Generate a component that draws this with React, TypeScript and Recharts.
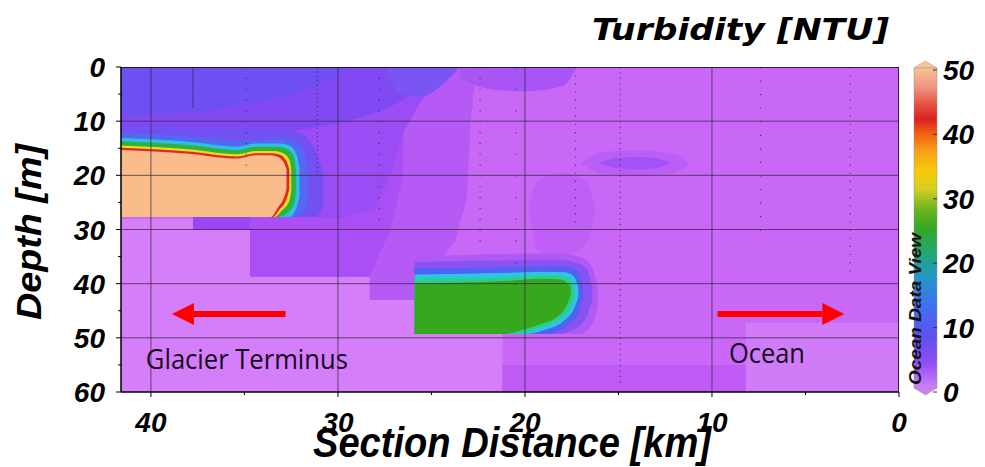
import React from "react";
import { ComposedChart, XAxis, YAxis, Area, Line, Scatter } from "recharts";

// ---------- axes ----------
const X_MAX = 41.6; // km (left edge of section)
const DEPTH_MAX = 60; // m
const xTicks = [0, 5, 10, 15, 20, 25, 30, 35, 40];
const yTicks = [0, 5, 10, 15, 20, 25, 30, 35, 40, 45, 50, 55, 60];
const gridX = [10, 20, 30, 40];
const gridY = [10, 20, 30, 40, 50];
const colorTicks = [0, 10, 20, 30, 40, 50];

// ---------- contour regions: [km, top depth, bottom depth] ----------
type Row = [number, number, number];

const fieldBase: Row[] = [[0, 0, 60], [41.6, 0, 60]];
const lowerLeftLight: Row[] = [[21.2, 49.3, 60], [25.9, 49.3, 60], [25.9, 28, 60], [41.6, 28, 60]];
const oceanLight: Row[] = [[0, 47.2, 60], [8.2, 47.2, 60]];
const bottomDark: Row[] = [[8.2, 55, 60], [21.2, 55, 60]];
const midPurple: Row[] = [
  [22.6, 0, 0.5], [22.9, 0, 10], [23.1, 0, 24], [23.7, 0, 32], [24.8, 0, 37],
  [25.9, 0, 38.5], [25.9, 0, 43], [28.3, 0, 43], [28.3, 0, 38.7], [34.7, 0, 38.7],
  [34.7, 0, 30], [37.75, 0, 30], [37.75, 0, 27.7], [41.6, 0, 27.7],
];
const stepPurple: Row[] = [
  [26.5, 0, 20], [27.2, 0, 30], [28.3, 0, 38.7], [34.7, 0, 38.7], [34.7, 0, 30],
  [37.75, 0, 30], [37.75, 0, 27.7], [41.6, 0, 27.7],
];
const darkStrip: Row[] = [[34.7, 27.7, 30], [37.75, 27.7, 30]];
const upperPurple: Row[] = [
  [24.5, 0, 1], [25.5, 0, 6], [26.5, 0, 12], [27.2, 0, 20], [28, 0, 26], [30, 0, 28],
  [31.5, 0, 27.7], [41.6, 0, 27.7],
];
const topBand: Row[] = [[17.3, 0, 0.5], [18, 0, 3.5], [20, 0, 4.5], [22, 0, 4], [23.5, 0, 2]];
const upperBlue: Row[] = [
  [25, 0, 2], [26.5, 0, 6], [28.5, 0, 9], [31, 0, 11], [33, 0, 12], [36, 0, 12.5], [41.6, 0, 12.5],
];
const surfaceBlue: Row[] = [[29.5, 0, 0.5], [31, 0, 3], [33, 0, 5.5], [36, 0, 7.5], [41.6, 0, 9]];
const surfaceSpot: Row[] = [[23.6, 0, 0.5], [24.5, 0, 3.5], [25.6, 0, 5.5], [26.6, 0, 5], [27.4, 0, 0.5]];
const patchOuter: Row[] = [[11.2, 17.8, 17.8], [12, 16, 19.5], [14, 15.4, 20], [16, 15.8, 19.5], [17, 17.8, 17.8]];
const patchInner: Row[] = [[12.2, 17.7, 17.7], [12.8, 17, 18.5], [14, 16.6, 18.9], [15.2, 16.8, 18.6], [16, 17.7, 17.7]];
const midPatch: Row[] = [[16.2, 26, 26], [16.8, 21, 33], [18, 19.5, 35], [19.3, 21, 34], [19.8, 26, 26]];

// mid-depth green plume (contour levels, outer -> inner)
const plume5: Row[] = [[16.1, 41, 44], [16.4, 37, 47.5], [17.1, 35, 49.3], [18.3, 34.4, 49.3], [25.9, 35, 49.3]];
const plume8: Row[] = [[16.4, 40.6, 43], [16.7, 37.3, 46], [17.4, 36, 48.5], [18.4, 35.6, 49.3], [25.9, 36, 49.3]];
const plume12: Row[] = [[16.9, 40.6, 42.6], [17.1, 38, 45.2], [17.6, 37, 47.4], [18.7, 36.8, 49.2], [19.6, 36.9, 49.3], [25.9, 37.1, 49.3]];
const plume16: Row[] = [[17.15, 40.6, 42.6], [17.4, 38.6, 44.8], [17.9, 37.9, 46.8], [19, 37.8, 48.6], [20, 37.9, 49.3], [25.9, 38.3, 49.3]];
const plume20: Row[] = [[17.35, 40.6, 42.4], [17.6, 39.2, 44.5], [18.1, 38.6, 46.4], [19.1, 38.5, 48], [20.2, 38.7, 49.2], [20.8, 38.8, 49.3], [25.9, 39.1, 49.3]];
const plume25: Row[] = [[17.55, 40.6, 42.2], [17.8, 39.7, 44.2], [18.2, 39.2, 45.9], [19.2, 39.1, 47.5], [20.3, 39.3, 48.7], [21.1, 39.5, 49.3], [25.9, 39.9, 49.3]];

// glacier-front turbid plume (contour levels, outer -> inner)
const front5: Row[] = [[30.8, 19.5, 25.5], [31.2, 15.5, 27.7], [32, 12.3, 27.7], [33, 11.6, 27.7], [38, 11.2, 27.7], [41.6, 10.8, 27.7]];
const front10: Row[] = [[31.6, 19, 24.5], [31.8, 15.8, 26.7], [32.3, 13.6, 27.7], [33, 13.2, 27.7], [35.4, 13.6, 27.7], [38, 12.8, 27.7], [41.6, 12.1, 27.7]];
const front17: Row[] = [[32.05, 18.8, 23.8], [32.2, 16.3, 25.8], [32.6, 14.5, 27.7], [33.1, 14.1, 27.7], [34.4, 14.1, 27.7], [35.4, 14.7, 27.7], [38, 13.8, 27.7], [41.6, 13.1, 27.7]];
const front25: Row[] = [[32.25, 18.8, 23.2], [32.35, 16.7, 25.3], [32.8, 15, 27.2], [33.2, 14.7, 27.7], [34.4, 14.7, 27.7], [35.4, 15.3, 27.7], [38, 14.4, 27.7], [41.6, 13.7, 27.7]];
const front33: Row[] = [[32.5, 18.8, 22.8], [32.6, 17.1, 24.7], [33, 15.8, 26.5], [33.4, 15.5, 27.7], [34.4, 15.5, 27.7], [35.4, 16.1, 27.7], [38, 15.2, 27.7], [41.6, 14.5, 27.7]];
const front42: Row[] = [[32.6, 18.8, 22.6], [32.75, 17.4, 24.4], [33.1, 16.2, 26.2], [33.5, 15.9, 27.7], [34.4, 15.9, 27.7], [35.4, 16.5, 27.7], [38, 15.6, 27.7], [41.6, 14.9, 27.7]];
const front50: Row[] = [[32.75, 18.8, 22.5], [32.9, 17.6, 24.2], [33.2, 16.6, 25.9], [33.6, 16.3, 27.7], [34.4, 16.3, 27.7], [35.4, 16.9, 27.7], [38, 16, 27.7], [41.6, 15.3, 27.7]];

// CTD stations: km, max depth (m), sampling step (m)
const stations: [number, number, number][] = [
  [37.75, 7.6, 0.3], [34.9, 20, 2], [31.1, 20.5, 0.8], [27.8, 29, 2], [22.4, 33.5, 2],
  [20.5, 42, 4], [17.3, 30, 1.5], [14.9, 59, 1], [7.4, 32, 2.5], [2.6, 38, 1.5],
];

// annotations
const arrows: [number, number, number][] = [
  // tail km, head-base km, depth
  [32.8, 37.7, 45.6],
  [9.7, 4.1, 45.6],
];
const notes: { x: number; y: number; label: string; len: number }[] = [
  { x: 40.27, y: 55.7, label: "Glacier Terminus", len: 202 },
  { x: 9.09, y: 54.6, label: "Ocean", len: 76 },
];

// ---------- styles ----------
const layers: { rows: Row[]; fill: string; curve: "linear" | "monotone" }[] = [
  { rows: fieldBase, fill: "#c968f7", curve: "linear" },
  { rows: lowerLeftLight, fill: "#d47efa", curve: "linear" },
  { rows: oceanLight, fill: "#d07bf8", curve: "linear" },
  { rows: bottomDark, fill: "#c05af5", curve: "linear" },
  { rows: midPurple, fill: "#b65af6", curve: "linear" },
  { rows: stepPurple, fill: "#aa4ff5", curve: "linear" },
  { rows: darkStrip, fill: "#9c45f5", curve: "linear" },
  { rows: upperPurple, fill: "#9a4cf5", curve: "linear" },
  { rows: topBand, fill: "#a955f6", curve: "monotone" },
  { rows: upperBlue, fill: "#8049f3", curve: "monotone" },
  { rows: surfaceBlue, fill: "#6d4ff2", curve: "monotone" },
  { rows: surfaceSpot, fill: "#7a55f4", curve: "monotone" },
  { rows: patchOuter, fill: "#bb5ef6", curve: "monotone" },
  { rows: patchInner, fill: "#a352f5", curve: "monotone" },
  { rows: midPatch, fill: "#bf5ff6", curve: "monotone" },
  { rows: plume5, fill: "#b05af6", curve: "monotone" },
  { rows: plume8, fill: "#8a52f4", curve: "monotone" },
  { rows: plume12, fill: "#4f62f0", curve: "monotone" },
  { rows: plume16, fill: "#2ec4e4", curve: "monotone" },
  { rows: plume20, fill: "#2ccf86", curve: "monotone" },
  { rows: plume25, fill: "#35a81e", curve: "monotone" },
  { rows: front5, fill: "#7250f3", curve: "monotone" },
  { rows: front10, fill: "#5468f2", curve: "monotone" },
  { rows: front17, fill: "#2cc0e6", curve: "monotone" },
  { rows: front25, fill: "#2eb43c", curve: "monotone" },
  { rows: front33, fill: "#ecdc1c", curve: "monotone" },
  { rows: front42, fill: "#e0282a", curve: "monotone" },
  { rows: front50, fill: "#f9bd8c", curve: "monotone" },
];

const colorStops: [number, string][] = [
  [50, "#f9c393"], [47, "#f09482"], [44, "#e34a3c"], [42, "#dc2222"], [40, "#f05a10"],
  [37, "#f8a018"], [34, "#fcc808"], [31, "#d0d020"], [28, "#70b420"], [25, "#36a624"],
  [21, "#22a874"], [17, "#2494cc"], [13, "#3f72ee"], [8, "#5e50f0"], [4, "#8e4ef5"], [0, "#cf7ef8"],
];

const tickFont: React.CSSProperties = {
  fontFamily: "'Liberation Sans', Arial, sans-serif",
  fontWeight: 700,
  fontStyle: "italic",
  fontSize: 28,
  fill: "#000",
};

const toArea = (rows: Row[]) => rows.map(([x, a, b]) => ({ x, r: [a, b] }));

const XTick = (props: any) => {
  const { x, y, payload } = props;
  const v = payload.value;
  const major = v % 10 === 0;
  return (
    <g>
      <line x1={x} x2={x} y1={y} y2={y + (major ? 5 : 3)} stroke="#000" strokeWidth={1} />
      {major && (
        <text x={x} y={y + 40} textAnchor="middle" style={tickFont}>
          {v}
        </text>
      )}
    </g>
  );
};

const YTick = (props: any) => {
  const { x, y, payload } = props;
  const v = payload.value;
  const major = v % 10 === 0;
  return (
    <g>
      <line x1={x} x2={x - (major ? 5 : 3)} y1={y} y2={y} stroke="#000" strokeWidth={1} />
      {major && (
        <text x={x - 16} y={y + 10} textAnchor="end" style={tickFont}>
          {v}
        </text>
      )}
    </g>
  );
};

const ArrowHead = (props: any) => {
  const { cx, cy, index, payload } = props;
  if (index !== 1 || cx == null) return <g key={`a${index}`} />;
  const d = payload.dir;
  const L = 22;
  const h = 11;
  return (
    <polygon
      key={`a${index}`}
      points={`${cx},${cy - h} ${cx + d * L},${cy} ${cx},${cy + h}`}
      fill="#ff0000"
    />
  );
};

const NoteText = (props: any) => {
  const { cx, cy, payload } = props;
  return (
    <text
      x={cx}
      y={cy}
      textLength={payload.len}
      lengthAdjust="spacingAndGlyphs"
      style={{ fontFamily: "'Open Sans', 'Noto Sans', sans-serif", fontSize: 27, fill: "#150a1a" }}
    >
      {payload.label}
    </text>
  );
};

export default function App() {
  const cbX = 914;
  const cbW = 23;
  const cbTop = 68;
  const cbBot = 388;
  const cbY = (v: number) => 392 - (v / 50) * 322;

  return (
    <div style={{ position: "absolute", left: 0, top: 0, width: 985, height: 467, background: "#fff" }}>
      <ComposedChart width={985} height={467} margin={{ top: 67, right: 86, bottom: 0, left: 0 }}>
        <XAxis
          dataKey="x"
          type="number"
          domain={[0, X_MAX]}
          reversed
          allowDataOverflow
          ticks={xTicks}
          interval={0}
          height={75}
          tickLine={false}
          tickSize={0}
          tickMargin={0}
          tick={<XTick />}
          axisLine={{ stroke: "#000", strokeWidth: 1.5 }}
        />
        <YAxis
          type="number"
          domain={[0, DEPTH_MAX]}
          reversed
          allowDataOverflow
          ticks={yTicks}
          interval={0}
          width={121}
          tickLine={false}
          tickSize={0}
          tickMargin={0}
          tick={<YTick />}
          axisLine={{ stroke: "#000", strokeWidth: 1.5 }}
        />
        {layers.map((l, i) => (
          <Area
            key={`layer${i}`}
            data={toArea(l.rows)}
            dataKey="r"
            type={l.curve}
            fill={l.fill}
            fillOpacity={1}
            stroke="none"
            dot={false}
            activeDot={false}
            isAnimationActive={false}
          />
        ))}
        {stations.map(([km, maxD, step], i) => (
          <Line
            key={`st${i}`}
            data={[{ x: km, y: 0 }, { x: km, y: maxD }]}
            dataKey="y"
            stroke="#2a2233"
            strokeOpacity={0.7}
            strokeWidth={1.2}
            strokeDasharray={`1.2 ${Math.max(step * 5.417 - 1.2, 0.2)}`}
            dot={false}
            activeDot={false}
            isAnimationActive={false}
          />
        ))}
        {gridX.map((g) => (
          <Line
            key={`gx${g}`}
            data={[{ x: g, y: 0 }, { x: g, y: DEPTH_MAX }]}
            dataKey="y"
            stroke="#3a2a44"
            strokeOpacity={0.85}
            strokeWidth={0.9}
            dot={false}
            activeDot={false}
            isAnimationActive={false}
          />
        ))}
        {gridY.map((g) => (
          <Line
            key={`gy${g}`}
            data={[{ x: 0, y: g }, { x: X_MAX, y: g }]}
            dataKey="y"
            stroke="#3a2a44"
            strokeOpacity={0.85}
            strokeWidth={0.9}
            dot={false}
            activeDot={false}
            isAnimationActive={false}
          />
        ))}
        <Line
          data={[{ x: 0, y: 0 }, { x: X_MAX, y: 0 }]}
          dataKey="y"
          stroke="#000"
          strokeWidth={1.5}
          dot={false}
          activeDot={false}
          isAnimationActive={false}
        />
        <Line
          data={[{ x: 0, y: 0 }, { x: 0, y: DEPTH_MAX }]}
          dataKey="y"
          stroke="#000"
          strokeWidth={1.5}
          dot={false}
          activeDot={false}
          isAnimationActive={false}
        />
        {arrows.map(([tail, base, depth], i) => {
          const dir = base > tail ? -1 : 1;
          return (
            <Line
              key={`arr${i}`}
              data={[{ x: tail, y: depth, dir }, { x: base, y: depth, dir }]}
              dataKey="y"
              stroke="#ff0000"
              strokeWidth={6}
              dot={ArrowHead}
              activeDot={false}
              isAnimationActive={false}
            />
          );
        })}
        <Scatter data={notes} dataKey="y" shape={NoteText} isAnimationActive={false} />
      </ComposedChart>

      <svg
        width={985}
        height={467}
        style={{ position: "absolute", left: 0, top: 0, pointerEvents: "none" }}
      >
        <defs>
          <linearGradient id="cbar" x1="0" y1="0" x2="0" y2="1">
            {colorStops.map(([v, c]) => (
              <stop key={v} offset={`${((50 - v) / 50) * 100}%`} stopColor={c} />
            ))}
          </linearGradient>
        </defs>
        <text
          x={592}
          y={40}
          textLength={297}
          lengthAdjust="spacingAndGlyphs"
          style={{
            fontFamily: "'DejaVu Sans', sans-serif",
            fontWeight: 700,
            fontStyle: "italic",
            fontSize: 31,
            fill: "#000",
          }}
        >
          Turbidity [NTU]
        </text>
        <text
          transform="translate(41,232) rotate(-90)"
          textAnchor="middle"
          textLength={176}
          lengthAdjust="spacingAndGlyphs"
          style={{
            fontFamily: "'Liberation Sans', Arial, sans-serif",
            fontWeight: 700,
            fontStyle: "italic",
            fontSize: 35,
            fill: "#000",
          }}
        >
          Depth [m]
        </text>
        <text
          x={512}
          y={457}
          textAnchor="middle"
          textLength={398}
          lengthAdjust="spacingAndGlyphs"
          style={{
            fontFamily: "'Liberation Sans', Arial, sans-serif",
            fontWeight: 700,
            fontStyle: "italic",
            fontSize: 42,
            fill: "#000",
          }}
        >
          Section Distance [km]
        </text>
        {/* colour bar */}
        <polygon
          points={`${cbX},${cbTop} ${cbX + cbW / 2},${cbTop - 7} ${cbX + cbW},${cbTop}`}
          fill="#f9c393"
          stroke="#999"
          strokeWidth={0.5}
        />
        <polygon
          points={`${cbX},${cbBot} ${cbX + cbW / 2},${cbBot + 7} ${cbX + cbW},${cbBot}`}
          fill="#cf7ef8"
          stroke="#999"
          strokeWidth={0.5}
        />
        <rect x={cbX} y={cbTop} width={cbW} height={cbBot - cbTop} fill="url(#cbar)" stroke="#999" strokeWidth={0.5} />
        {colorTicks.map((v) => (
          <g key={v}>
            <line x1={cbX + cbW - 4} x2={cbX + cbW} y1={cbY(v)} y2={cbY(v)} stroke="#333" strokeWidth={1} />
            <text x={943} y={cbY(v) + 10} style={tickFont}>
              {v}
            </text>
          </g>
        ))}
        <text
          transform="translate(921,309) rotate(-90)"
          textAnchor="middle"
          textLength={152}
          lengthAdjust="spacingAndGlyphs"
          style={{
            fontFamily: "'Liberation Sans', Arial, sans-serif",
            fontWeight: 700,
            fontStyle: "italic",
            fontSize: 16,
            fill: "#111",
          }}
        >
          Ocean Data View
        </text>
      </svg>
    </div>
  );
}
